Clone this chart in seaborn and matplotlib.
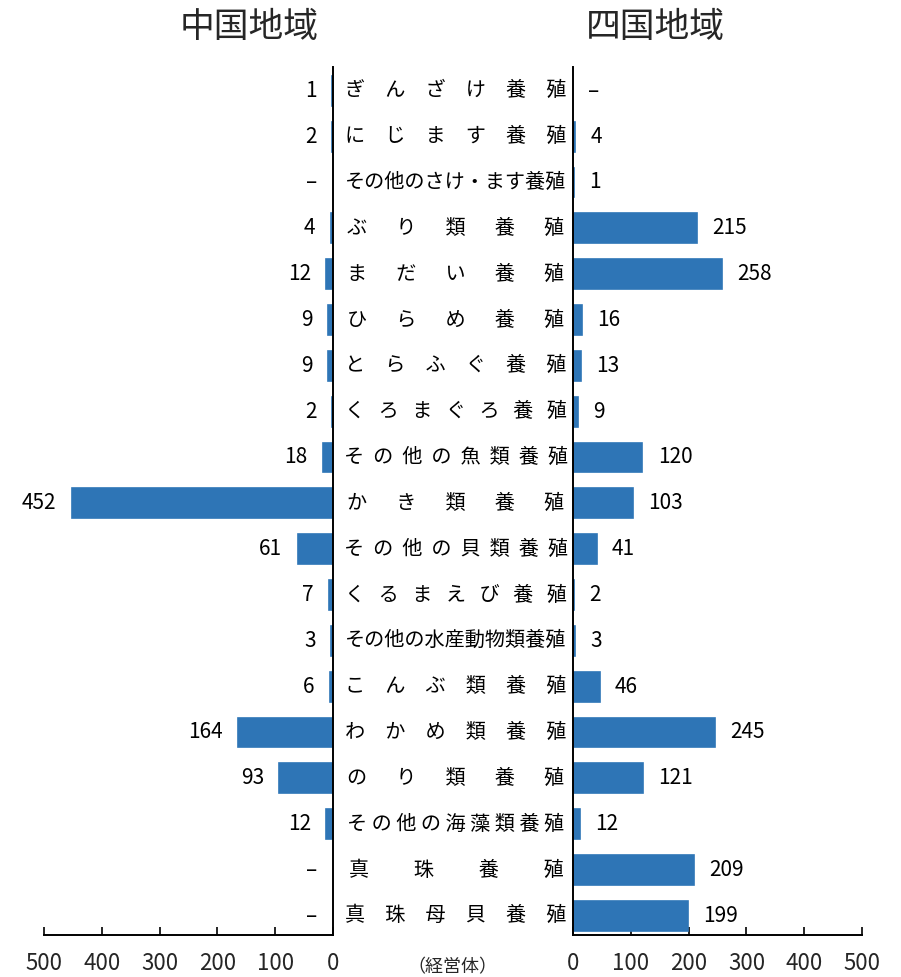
import numpy as np
import pandas as pd
import seaborn as sns
import matplotlib.pyplot as plt

# data (None = "–", no establishments)
categories = [
    "ぎんざけ養殖", "にじます養殖", "その他のさけ・ます養殖", "ぶり類養殖",
    "まだい養殖", "ひらめ養殖", "とらふぐ養殖", "くろまぐろ養殖",
    "その他の魚類養殖", "かき類養殖", "その他の貝類養殖", "くるまえび養殖",
    "その他の水産動物類養殖", "こんぶ類養殖", "わかめ類養殖", "のり類養殖",
    "その他の海藻類養殖", "真珠養殖", "真珠母貝養殖",
]
chugoku = [1, 2, None, 4, 12, 9, 9, 2, 18, 452, 61, 7, 3, 6, 164, 93, 12, None, None]
shikoku = [None, 4, 1, 215, 258, 16, 13, 9, 120, 103, 41, 2, 3, 46, 245, 121, 12, 209, 199]
ticks = [0, 100, 200, 300, 400, 500]

bar_color = "#2E75B6"

sns.set_theme(style="white")
plt.rcParams["font.family"] = ["Noto Sans CJK JP", "DejaVu Sans"]

df = pd.DataFrame({
    "種類": categories,
    "中国地域": pd.Series(chugoku, dtype="float"),
    "四国地域": pd.Series(shikoku, dtype="float"),
})

W, H = 901, 977
fig = plt.figure(figsize=(W / 100, H / 100), dpi=100)


def px_axes(x0, x1, ytop, ybot):
    return fig.add_axes([x0 / W, 1 - ybot / H, (x1 - x0) / W, (ybot - ytop) / H])


ax_l = px_axes(44, 333, 67, 935)
ax_r = px_axes(573, 862, 67, 935)

for ax, col, xlim, side in [(ax_l, "中国地域", (500, 0), "right"),
                            (ax_r, "四国地域", (0, 500), "left")]:
    sns.barplot(data=df, y="種類", x=col, orient="h", color=bar_color,
                saturation=1, width=0.65, edgecolor=bar_color, linewidth=1.2, ax=ax)
    ax.set_xlim(*xlim)
    ax.set_ylim(len(categories) - 0.58, -0.52)
    ax.set_xticks(ticks)
    ax.set_yticks([])
    ax.set_xlabel("")
    ax.set_ylabel("")
    for s in ax.spines.values():
        s.set_visible(False)
    for s in ("bottom", side):
        ax.spines[s].set_visible(True)
        ax.spines[s].set_color("black")
        ax.spines[s].set_linewidth(1.4)
        ax.spines[s].set_zorder(5)
    ax.tick_params(axis="x", bottom=True, direction="in", length=6, width=1.2,
                   color="black", labelsize=16, pad=12)

    vals = df[col].tolist()
    sign = -1 if side == "right" else 1
    for i, v in enumerate(vals):
        missing = np.isnan(v)
        txt = "–" if missing else f"{int(v)}"
        ax.annotate(txt, xy=(0 if missing else v, i), xytext=(sign * 11, 0),
                    textcoords="offset points", ha="right" if sign < 0 else "left",
                    va="center", fontsize=15, color="black")


# category labels in the middle, spread out like Excel "distributed" alignment
def spread(label, total=11, sp=0.224):
    n = len(label)
    if n >= total:
        return label
    g = (total - n) / (n - 1)
    gap = "\u3000" * int(g) + " " * int(round((g - int(g)) / sp))
    return gap.join(label)


mid = (456 - 44) / 289
for i, lab in enumerate(categories):
    ax_l.text(mid, i, spread(lab), transform=ax_l.get_yaxis_transform(),
              ha="center", va="center", fontsize=14.5, color="black", clip_on=False)

fig.text(249 / W, 1 - 27 / H, "中国地域", ha="center", va="center", fontsize=25)
fig.text(655 / W, 1 - 27 / H, "四国地域", ha="center", va="center", fontsize=25)
fig.text(452 / W, 1 - 967 / H, "（経営体）", ha="center", va="center", fontsize=13)

fig.savefig("out.png", dpi=100)
